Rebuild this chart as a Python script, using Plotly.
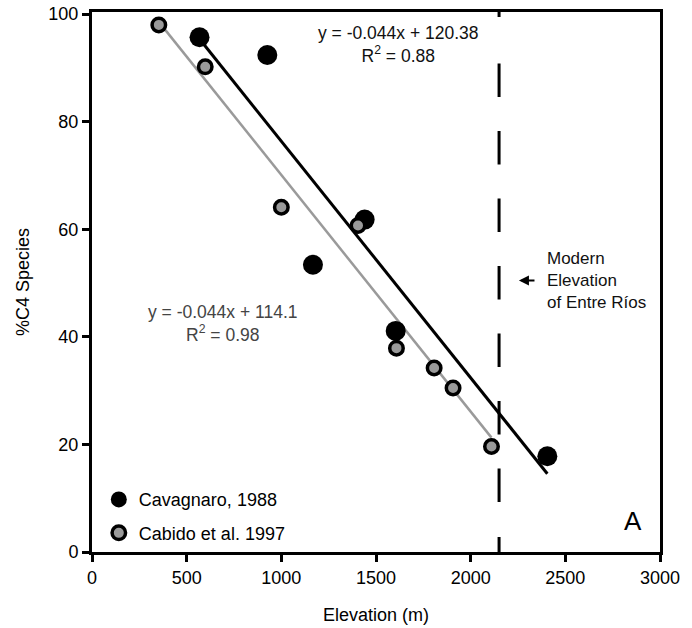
import plotly.graph_objects as go

# Cavagnaro (1988) survey: elevation (m) vs percentage of C4 grass species
cav_elev = [568, 926, 1167, 1440, 1604, 2405]
cav_c4 = [95.7, 92.4, 53.4, 61.8, 41.1, 17.8]

# Cabido et al. (1997) survey
cab_elev = [353, 598, 1000, 1405, 1608, 1807, 1907, 2110]
cab_c4 = [98.0, 90.2, 64.1, 60.7, 37.9, 34.2, 30.5, 19.6]

# Linear fits (slope, intercept, R^2) as printed on the chart
cav_fit = (-0.044, 120.38, 0.88)
cab_fit = (-0.044, 114.1, 0.98)

# Modern elevation of Entre Ríos (m)
entre_rios_elev = 2150

FONT = "Liberation Sans, Arial, sans-serif"
GRAY = "#9a9a9a"


def fit_line(xs, slope, intercept):
    x0, x1 = min(xs), max(xs)
    return [x0, x1], [slope * x0 + intercept, slope * x1 + intercept]


fig = go.Figure()

# Trend lines
lx, ly = fit_line(cav_elev, cav_fit[0], cav_fit[1])
fig.add_trace(go.Scatter(x=lx, y=ly, mode="lines", line=dict(color="black", width=3),
                         showlegend=False, hoverinfo="skip"))
lx, ly = fit_line(cab_elev, cab_fit[0], cab_fit[1])
fig.add_trace(go.Scatter(x=lx, y=ly, mode="lines", line=dict(color=GRAY, width=2.5),
                         showlegend=False, hoverinfo="skip"))

# Data points
fig.add_trace(go.Scatter(x=cav_elev, y=cav_c4, mode="markers", name="Cavagnaro, 1988",
                         legendgroup="cav",
                         marker=dict(color="black", size=20, line=dict(width=0))))
fig.add_trace(go.Scatter(x=cab_elev, y=cab_c4, mode="markers", name="Cabido et al. 1997",
                         legendgroup="cab",
                         marker=dict(color=GRAY, size=13.5, line=dict(color="black", width=3.5))))

# Vertical dashed marker for modern elevation (dash pattern runs from the x axis upward)
dash_pattern = ",".join(f"{v}px" for v in [15, 35] + [33.5, 34] * 6 + [33.5, 46.5, 5, 100])
fig.add_shape(type="line", xref="x", yref="paper", x0=entre_rios_elev, x1=entre_rios_elev,
              y0=0, y1=1, line=dict(color="black", width=3, dash=dash_pattern))

# Fit equation labels
def eq_text(fit):
    s, b, r2 = fit
    return f"y = {s:g}x + {b:g}<br>R<sup>2</sup> = {r2:.2f}"

fig.add_annotation(x=1620, y=94.3, xref="x", yref="y", text=eq_text(cav_fit), showarrow=False,
                   font=dict(family=FONT, size=17.5, color="#111"), align="center")
fig.add_annotation(x=690, y=42.4, xref="x", yref="y", text=eq_text(cab_fit), showarrow=False,
                   font=dict(family=FONT, size=17.5, color="#444"), align="center")

# Modern elevation note with arrow
fig.add_annotation(x=2255, y=50.5, xref="x", yref="y", ax=2345, ay=50.5, axref="x", ayref="y",
                   text="", showarrow=True, arrowhead=2, arrowsize=1, arrowwidth=2,
                   arrowcolor="black")
fig.add_annotation(x=2392, y=50.4, xref="x", yref="y", text="Modern<br>Elevation<br>of Entre Ríos",
                   showarrow=False, xanchor="left", align="left",
                   font=dict(family=FONT, size=17, color="#111"))

# Panel letter
fig.add_annotation(x=2860, y=5.7, xref="x", yref="y", text="A", showarrow=False,
                   font=dict(family=FONT, size=26, color="black"))

axis_common = dict(showgrid=False, zeroline=False, showline=True, linecolor="black",
                   linewidth=3, mirror=True, ticks="outside", ticklen=7, tickwidth=2.5,
                   tickcolor="black", tickfont=dict(family=FONT, size=18, color="black"),
                   automargin=False)

fig.update_xaxes(range=[0, 3000], tickvals=[0, 500, 1000, 1500, 2000, 2500, 3000],
                 title=dict(text="Elevation (m)", font=dict(family=FONT, size=18, color="black"),
                            standoff=22),
                 **axis_common)
fig.update_yaxes(range=[0, 100.4], tickvals=[0, 20, 40, 60, 80, 100],
                 title=dict(text="%C4 Species", font=dict(family=FONT, size=18, color="black"),
                            standoff=15),
                 **axis_common)

fig.update_layout(
    width=692, height=628,
    margin=dict(l=92, r=32, t=12, b=76),
    plot_bgcolor="white", paper_bgcolor="white",
    legend=dict(x=0.012, y=0.131, xanchor="left", yanchor="top",
                font=dict(family=FONT, size=18, color="black"),
                bgcolor="rgba(0,0,0,0)", tracegroupgap=7, itemsizing="trace"),
)

fig.write_html("out.html")
